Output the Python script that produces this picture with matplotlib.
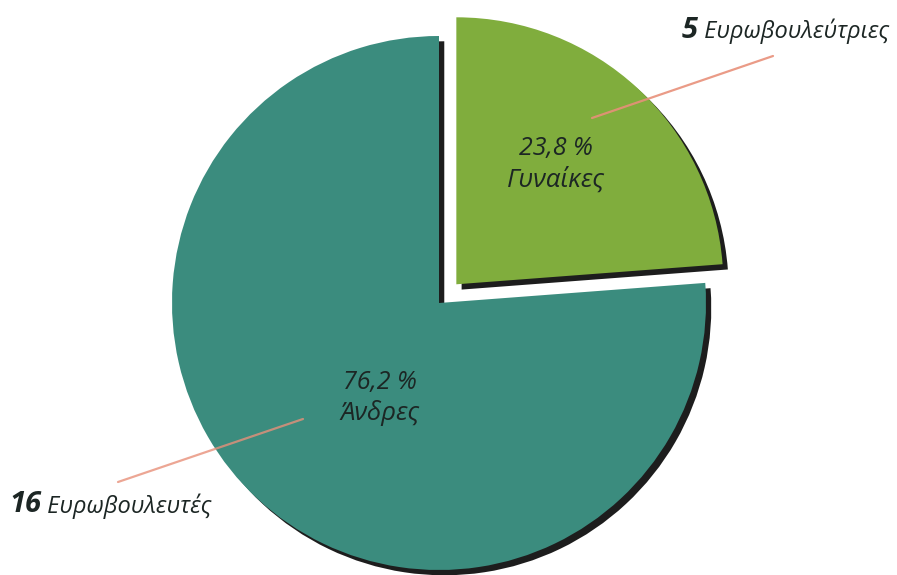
import matplotlib
matplotlib.use("Agg")
import matplotlib.pyplot as plt
import matplotlib.patheffects as pe

# Data
categories = ["Γυναίκες", "Άνδρες"]
percentages = [23.8, 76.2]
pct_labels = ["23,8 %", "76,2 %"]
counts = [5, 16]
count_words = ["Ευρωβουλεύτριες", "Ευρωβουλευτές"]
colors = ["#80ad3d", "#3b8c7e"]

W, H = 897, 575
fig = plt.figure(figsize=(W / 100, H / 100), dpi=100)
ax = fig.add_axes([0, 0, 1, 1])

FONT = ["Open Sans", "DejaVu Sans"]
TXT = "#1c2624"

def Y(y):
    return H - y

wedges, _ = ax.pie(percentages, colors=colors, startangle=90, counterclock=False,
                   explode=[25.5, 0.0], radius=267, center=(439, Y(303)),
                   frame=True, wedgeprops=dict(linewidth=0))
for w in wedges:
    w.set_path_effects([pe.SimplePatchShadow(offset=(3.8, -3.8), shadow_rgbFace="#111111",
                                             alpha=0.95, rho=1), pe.Normal()])
ax.set_xlim(0, W)
ax.set_ylim(0, H)
ax.set_aspect("equal")
ax.axis("off")

# Leader lines
ax.plot([592, 773], [Y(118), Y(56)], color="#e8907a", lw=1.6, alpha=0.9, solid_capstyle="round")
ax.plot([118, 303], [Y(482), Y(419)], color="#e8907a", lw=1.6, alpha=0.8, solid_capstyle="round")

# Inner labels
ax.text(556, Y(149), pct_labels[0], ha="center", va="center", fontsize=18,
        style="italic", family=FONT, color=TXT)
ax.text(556, Y(180), categories[0], ha="center", va="center", fontsize=18.5,
        style="italic", family=FONT, color=TXT)
ax.text(380, Y(383), pct_labels[1], ha="center", va="center", fontsize=18,
        style="italic", family=FONT, color=TXT)
ax.text(380, Y(413), categories[1], ha="center", va="center", fontsize=18.5,
        style="italic", family=FONT, color=TXT)

# Outer labels
t = ax.text(682, Y(30), f"{counts[0]}", ha="left", va="center", fontsize=21,
            style="italic", weight="bold", family=FONT, color=TXT)
ax.annotate(" " + count_words[0], xy=(1, 0.45), xycoords=t, ha="left", va="center",
            fontsize=17, style="italic", family=FONT, color=TXT)
t2 = ax.text(9, Y(505), f"{counts[1]}", ha="left", va="center", fontsize=21,
             style="italic", weight="bold", family=FONT, color=TXT)
ax.annotate(" " + count_words[1], xy=(1, 0.45), xycoords=t2, ha="left", va="center",
            fontsize=17, style="italic", family=FONT, color=TXT)

fig.savefig("out.png", dpi=100)
